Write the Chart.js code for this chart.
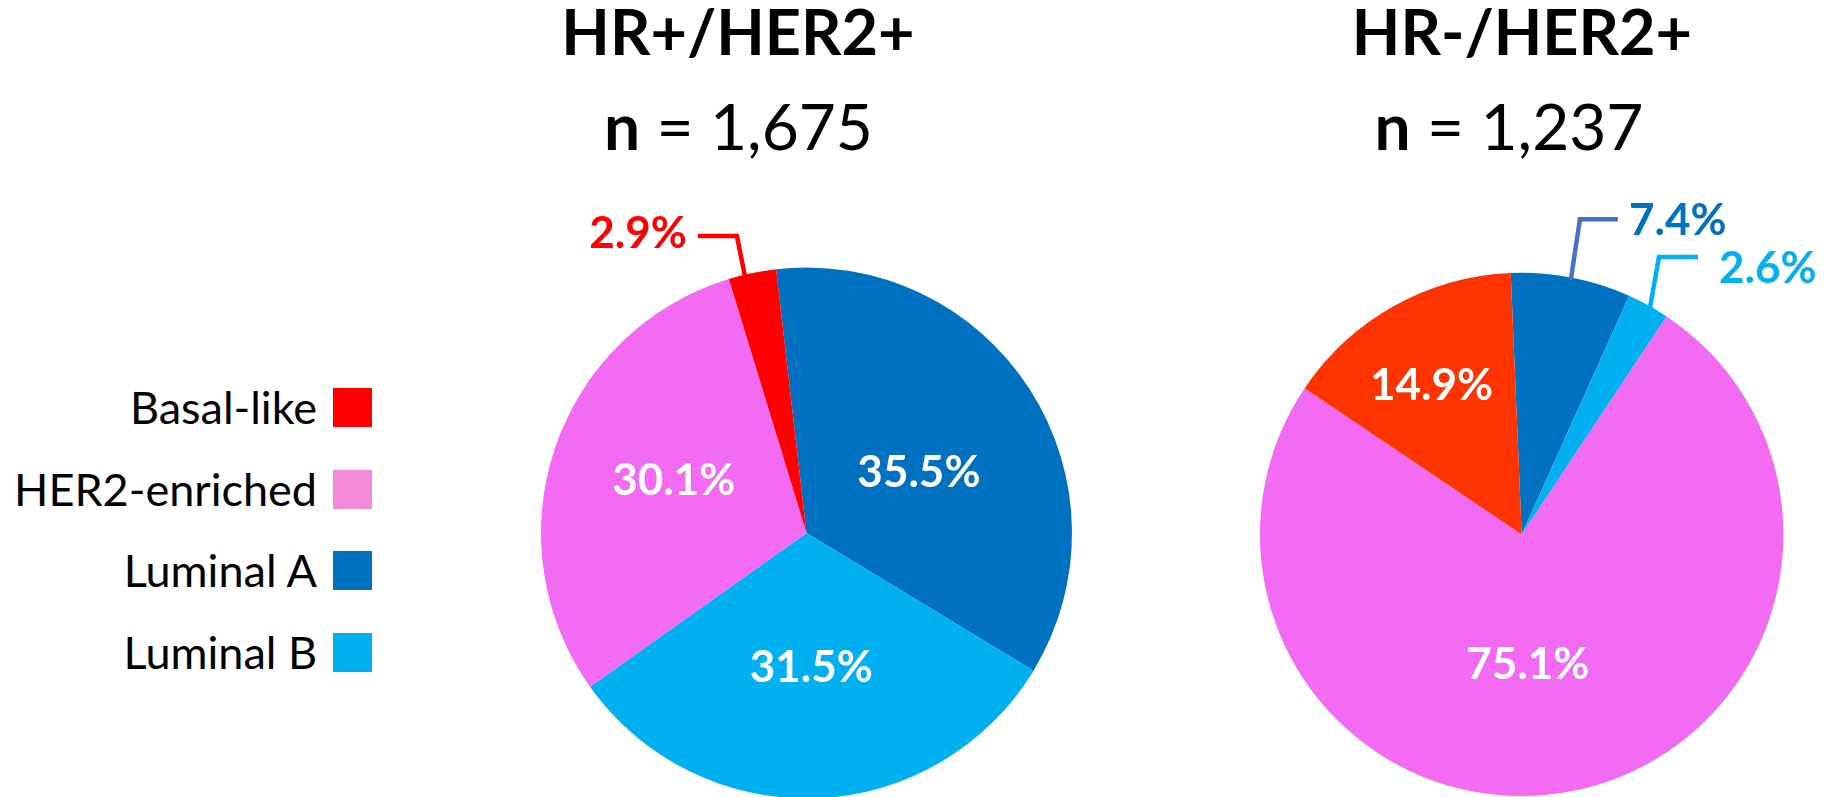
<!DOCTYPE html>
<html>
<head>
<meta charset="utf-8">
<script src="https://cdn.jsdelivr.net/npm/chart.js@4.4.1/dist/chart.umd.min.js"></script>
<style>
  html, body { margin: 0; padding: 0; background: #fff; overflow: hidden; }
  body { width: 1824px; height: 797px; position: relative; font-family: Lato, "Open Sans", sans-serif; color: #000; }
  .pie-box { position: absolute; top: 0; height: 840px; }
  .title-line { position: absolute; width: 600px; text-align: center; white-space: nowrap; }
  .title-line.main { font-size: 63px; line-height: 63px; font-weight: 700; top: -1px; }
  .title-line.count { font-size: 64px; line-height: 64px; font-weight: 400; top: 94px; }
  .legend-row { position: absolute; right: 1452px; height: 39px; display: flex; align-items: center; gap: 16px; font-size: 45px; line-height: 39px; white-space: nowrap; }
  .legend-row .swatch { width: 39px; height: 39px; flex: none; }
</style>
</head>
<body>
<div id="titles"></div>
<div id="legend"></div>
<div class="pie-box" style="left:440px;width:734px"><canvas id="pieHrPos"></canvas></div>
<div class="pie-box" style="left:1150px;width:674px"><canvas id="pieHrNeg"></canvas></div>
<script>
const categories = ["Basal-like", "HER2-enriched", "Luminal A", "Luminal B"];
const hrPosValues = [2.9, 30.1, 35.5, 31.5];
const hrNegValues = [14.9, 75.1, 7.4, 2.6];
const panelTitles = ["HR+/HER2+", "HR-/HER2+"];
const panelCounts = ["1,675", "1,237"];
// slices go clockwise from 12 o'clock in this order
const sliceOrder = [2, 3, 1, 0];

const legendColors = ["#ff0000", "#f48ad9", "#0070c0", "#00b0f0"];
const hrPosColors = ["#ff0000", "#f36bf2", "#0070c0", "#00b0f0"];
const hrNegColors = ["#ff3300", "#f36bf2", "#0070c0", "#00b0f0"];

// label placement, by category
const hrPosLabels = [
  { out: true, side: -1, color: "#ff0000", line: "#ff0000", startOff: -1.7, elbowFrac: 1.149, elbowOff: -1.4, arm: 39, gap: 11, dy: -3.5 },
  { frac: 0.54, off: 3.4 },
  { frac: 0.483, off: 3.9 },
  { frac: 0.501, off: 0 },
];
const hrNegLabels = [
  { frac: 0.668, off: -1.8 },
  { frac: 0.492, off: 8.5 },
  { out: true, side: 1, color: "#0070c0", line: "#4472c4", startOff: 0, elbowFrac: 1.225, elbowOff: -0.45, arm: 38, gap: 11, dy: 0 },
  { out: true, side: 1, color: "#00b0f0", line: "#00b0f0", startOff: 0.7, elbowFrac: 1.183, elbowOff: -2.6, arm: 39, gap: 21, dy: 10.5 },
];

// titles
const titleCenters = [[738, 738.5], [1522, 1509]];
const titlesEl = document.getElementById("titles");
panelTitles.forEach((t, i) => {
  titlesEl.insertAdjacentHTML("beforeend",
    `<div class="title-line main" style="left:${titleCenters[i][0] - 300}px">${t}</div>` +
    `<div class="title-line count" style="left:${titleCenters[i][1] - 300}px"><b>n</b> = ${panelCounts[i]}</div>`);
});

// legend
const legendEl = document.getElementById("legend");
categories.forEach((c, i) => {
  const cy = 407.5 + i * 81.5;
  legendEl.insertAdjacentHTML("beforeend",
    `<div class="legend-row" style="top:${cy - 19.5}px"><span>${c}</span><span class="swatch" style="background:${legendColors[i]}"></span></div>`);
});

const FONT_PX = 44;
const deg = Math.PI / 180;

const sliceLabels = {
  id: "sliceLabels",
  afterDatasetsDraw(chart, args, opts) {
    const ctx = chart.ctx;
    const meta = chart.getDatasetMeta(0);
    const values = chart.data.datasets[0].data;
    const capH = FONT_PX * 0.72;
    ctx.save();
    ctx.font = `bold ${FONT_PX}px Lato, "Open Sans", sans-serif`;
    meta.data.forEach((arc, i) => {
      const st = opts.styles[i];
      if (!st) return;
      const p = arc.getProps(["x", "y", "startAngle", "endAngle", "outerRadius"], true);
      const mid = (p.startAngle + p.endAngle) / 2;
      const R = p.outerRadius;
      const text = values[i].toFixed(1) + "%";
      if (!st.out) {
        const a = mid + st.off * deg;
        ctx.fillStyle = "#ffffff";
        ctx.textAlign = "center";
        ctx.textBaseline = "alphabetic";
        ctx.fillText(text, p.x + R * st.frac * Math.cos(a), p.y + R * st.frac * Math.sin(a) + capH / 2);
        return;
      }
      const a0 = mid + st.startOff * deg;
      const a1 = mid + st.elbowOff * deg;
      const sx = p.x + R * 0.99 * Math.cos(a0), sy = p.y + R * 0.99 * Math.sin(a0);
      const ex = p.x + R * st.elbowFrac * Math.cos(a1), ey = p.y + R * st.elbowFrac * Math.sin(a1);
      const hx = ex + st.side * st.arm;
      ctx.strokeStyle = st.line;
      ctx.lineWidth = 4.5;
      ctx.lineJoin = "miter";
      ctx.beginPath();
      ctx.moveTo(sx, sy);
      ctx.lineTo(ex, ey);
      ctx.lineTo(hx, ey);
      ctx.stroke();
      ctx.fillStyle = st.color;
      ctx.textAlign = st.side > 0 ? "left" : "right";
      ctx.textBaseline = "alphabetic";
      ctx.fillText(text, hx + st.side * st.gap, ey + st.dy + capH / 2);
    });
    ctx.restore();
  },
};

function makePie(id, values, colors, labelStyles, rotation, padding) {
  return new Chart(document.getElementById(id), {
    type: "pie",
    data: {
      labels: sliceOrder.map((i) => categories[i]),
      datasets: [{
        data: sliceOrder.map((i) => values[i]),
        backgroundColor: sliceOrder.map((i) => colors[i]),
        borderWidth: 0,
      }],
    },
    options: {
      responsive: true,
      maintainAspectRatio: false,
      animation: false,
      rotation: rotation,
      layout: { padding: padding },
      plugins: {
        legend: { display: false },
        tooltip: { enabled: false },
        sliceLabels: { styles: sliceOrder.map((i) => labelStyles[i]) },
      },
    },
    plugins: [sliceLabels],
  });
}

makePie("pieHrPos", hrPosValues, hrPosColors, hrPosLabels, -6.57, { left: 101, right: 102, top: 267.5, bottom: 41.5 });
makePie("pieHrNeg", hrNegValues, hrNegColors, hrNegLabels, -2.4, { left: 110, right: 40.6, top: 272.7, bottom: 43.9 });
</script>
</body>
</html>
